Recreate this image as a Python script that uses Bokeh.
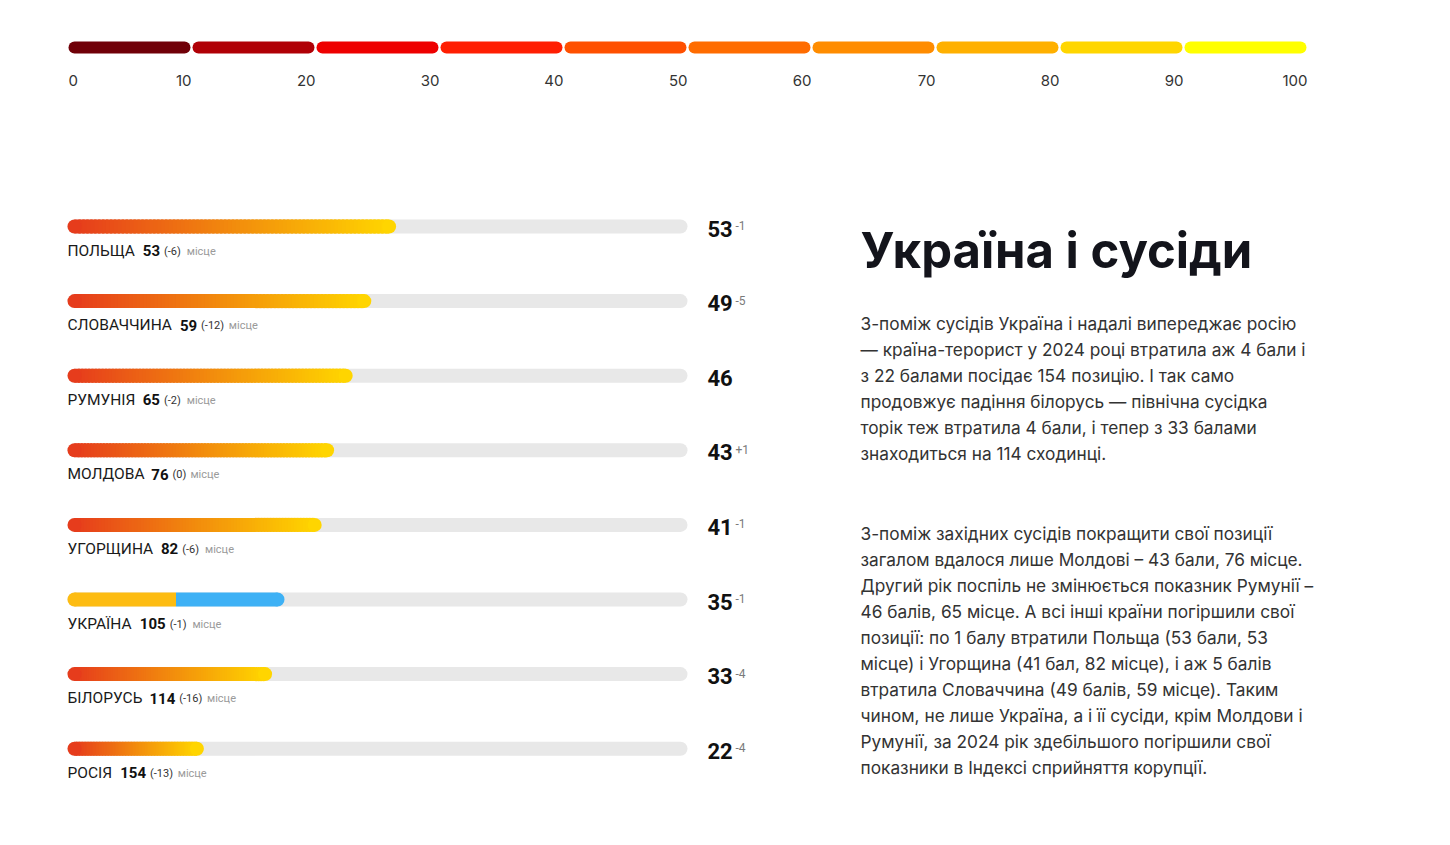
import numpy as np
from bokeh.plotting import figure
from bokeh.models import Range1d
from bokeh.core.properties import value
from bokeh.embed import file_html
from bokeh.resources import INLINE

# ---------------- data ----------------
countries = ["ПОЛЬЩА", "СЛОВАЧЧИНА", "РУМУНІЯ", "МОЛДОВА", "УГОРЩИНА", "УКРАЇНА", "БІЛОРУСЬ", "РОСІЯ"]
scores = [53, 49, 46, 43, 41, 35, 33, 22]
score_change = ["-1", "-5", "", "+1", "-1", "-1", "-4", "-4"]
ranks = [53, 59, 65, 76, 82, 105, 114, 154]
rank_change = ["(-6)", "(-12)", "(-2)", "(0)", "(-6)", "(-1)", "(-16)", "(-13)"]
rank_word = "місце"

scale_ticks = [0, 10, 20, 30, 40, 50, 60, 70, 80, 90, 100]
scale_colors = ["#700008", "#b00006", "#ee0000", "#ff1e02", "#ff5000", "#ff6c00",
                "#ff8c00", "#ffb000", "#ffd600", "#ffff00"]

title = "Україна і сусіди"
para1 = [
    "З-поміж сусідів Україна і надалі випереджає росію",
    "— країна-терорист у 2024 році втратила аж 4 бали і",
    "з 22 балами посідає 154 позицію. І так само",
    "продовжує падіння  білорусь — північна сусідка",
    "торік теж втратила 4 бали, і тепер з 33 балами",
    "знаходиться на 114 сходинці.",
]
para2 = [
    "З-поміж західних сусідів покращити свої позиції",
    "загалом вдалося лише Молдові – 43 бали, 76 місце.",
    "Другий рік поспіль не змінюється показник Румунії –",
    "46 балів, 65 місце. А всі інші країни погіршили свої",
    "позиції: по 1 балу втратили Польща (53 бали, 53",
    "місце) і Угорщина (41 бал, 82 місце), і аж 5 балів",
    "втратила Словаччина (49 балів, 59 місце). Таким",
    "чином, не лише Україна, а і її сусіди, крім Молдови і",
    "Румунії, за 2024 рік здебільшого погіршили свої",
    "показники в Індексі сприйняття корупції.",
]
flag_country = "УКРАЇНА"

# ---------------- layout / style ----------------
W, H = 1434, 829
PAGE = 0
TRACK_L, TRACK_R = 67, 687
PX = (TRACK_R - TRACK_L) / 100.0
SC_L, SC_R = 67, 1307
SPX = (SC_R - SC_L) / 100.0
ROW_Y0, ROW_STEP = 226, 74.6
BAR_H = 14
TRACK_COLOR = "#e8e8e8"
GRAD = ["#e63c1c", "#f28b0d", "#ffd500"]
FLAG = ["#fdbc12", "#3eb1f5"]
FONT_LBL = "Roboto"
FONT_BODY = "Inter"

x0 = -(TRACK_L - PAGE) / PX
sx0 = -(SC_L - PAGE) / SPX

p = figure(width=W, height=H, x_range=Range1d(x0, x0 + W / PX),
           y_range=Range1d(PAGE + H, PAGE), x_axis_type=None, y_axis_type=None,
           output_backend="svg", toolbar_location=None, min_border=0)
p.extra_x_ranges = {"scale": Range1d(sx0, sx0 + W / SPX)}
p.grid.visible = False
p.outline_line_color = None
p.background_fill_color = "white"
p.border_fill_color = "white"


def hex2rgb(h):
    h = h.lstrip("#")
    return np.array([int(h[i:i + 2], 16) for i in (0, 2, 4)], float)


def grad_color(t):
    stops = [hex2rgb(c) for c in GRAD]
    seg = min(int(t * 2), 1)
    tt = t * 2 - seg
    c = stops[seg] * (1 - tt) + stops[seg + 1] * tt
    return "#%02x%02x%02x" % tuple(int(round(v)) for v in c)


# ---------------- colour scale ----------------
sc_y = 47
gap = 1.0 / SPX
cap = 6.0 / SPX
lefts = scale_ticks[:-1]
rights = scale_ticks[1:]
p.segment(x0=[l + cap + gap for l in lefts], x1=[r - cap - gap for r in rights],
          y0=[sc_y] * 10, y1=[sc_y] * 10, line_width=12, line_cap="round",
          line_color=scale_colors, x_range_name="scale")

tick_align = ["left"] + ["right"] * (len(scale_ticks) - 1)
p.text(x=scale_ticks, y=[80] * len(scale_ticks), text=[str(t) for t in scale_ticks],
       text_align=tick_align, text_baseline="middle", text_font=value(FONT_BODY),
       text_font_size="15px", text_color="#333333", x_range_name="scale",
       x_offset=[1] + [0] * 10)

# ---------------- bars ----------------
r = (BAR_H / 2) / PX
ys = [ROW_Y0 + i * ROW_STEP for i in range(len(countries))]

p.segment(x0=[r] * len(ys), x1=[100 - r] * len(ys), y0=ys, y1=ys,
          line_width=BAR_H, line_cap="round", line_color=TRACK_COLOR)

N = 80
ql, qr, qb, qt, qc = [], [], [], [], []
cx, cy, cc = [], [], []
for name, s, y in zip(countries, scores, ys):
    if name == flag_country:
        half = s / 2.0
        ql += [r, half]
        qr += [half, s - r]
        qb += [y + BAR_H / 2] * 2
        qt += [y - BAR_H / 2] * 2
        qc += FLAG
        cx += [r, s - r]
        cy += [y, y]
        cc += FLAG
        continue
    edges = np.linspace(r, s - r, N + 1)
    step = edges[1] - edges[0]
    for k in range(N):
        ql.append(edges[k])
        qr.append(min(edges[k + 1] + step * 0.6, s - r))
        qb.append(y + BAR_H / 2)
        qt.append(y - BAR_H / 2)
        qc.append(grad_color((k + 0.5) / N))
    cx += [r, s - r]
    cy += [y, y]
    cc += [GRAD[0], GRAD[-1]]

p.quad(left=ql, right=qr, bottom=qb, top=qt, fill_color=qc, line_color=None)
p.scatter(x=cx, y=cy, size=BAR_H, marker="circle", fill_color=cc, line_color=None)

# score labels
SCORE_X = (707 - TRACK_L) / PX
p.text(x=[SCORE_X] * len(ys), y=[y + 2 for y in ys], text=[str(s) for s in scores],
       text_font=value(FONT_LBL), text_font_style="bold", text_font_size="22px",
       text_color="#111111", text_baseline="middle", text_align="left")
p.text(x=[SCORE_X] * len(ys), y=[y - 1 for y in ys], text=score_change,
       x_offset=[28] * len(ys),
       text_font=value(FONT_LBL), text_font_size="12px",
       text_color="#7a7a7a", text_baseline="middle", text_align="left")

# width estimates (em) for label composition
EM = {"А": .652, "Б": .617, "В": .621, "Г": .535, "Д": .681, "Е": .567, "И": .713,
      "К": .627, "Л": .690, "М": .873, "Н": .713, "О": .688, "П": .713, "Р": .631,
      "С": .652, "У": .605, "Ч": .677, "Щ": .98, "Ь": .617, "Я": .64, "І": .272,
      "Ї": .272, " ": .248}


def width(s, size, default=.56):
    return sum(EM.get(ch, default) for ch in s) * size


NAME_SIZE, RANK_SIZE, SMALL = 15.5, 15, 11
name_x, rank_x, chg_x, word_x = [], [], [], []
for name, rk, rc in zip(countries, ranks, rank_change):
    nx = 0
    rx = nx + width(name, NAME_SIZE) + 8
    cxx = rx + len(str(rk)) * 8.6 + 4
    wx = cxx + width(rc, SMALL, .45) + 3
    name_x.append(nx)
    rank_x.append(rx)
    chg_x.append(cxx)
    word_x.append(wx)

ly = [y + 24 for y in ys]
zeros = [0] * len(ys)
p.text(x=zeros, y=ly, text=countries, x_offset=name_x, text_font=value(FONT_LBL),
       text_font_size="%spx" % NAME_SIZE, text_color="#1a1a1a",
       text_baseline="middle", text_align="left")
p.text(x=zeros, y=ly, text=[str(v) for v in ranks], x_offset=rank_x,
       text_font=value(FONT_LBL), text_font_style="bold",
       text_font_size="%spx" % RANK_SIZE, text_color="#111111",
       text_baseline="middle", text_align="left")
p.text(x=zeros, y=[v + 0.5 for v in ly], text=rank_change, x_offset=chg_x,
       text_font=value(FONT_LBL), text_font_size="%spx" % SMALL, text_color="#333333",
       text_baseline="middle", text_align="left")
p.text(x=zeros, y=[v + 0.5 for v in ly], text=[rank_word] * len(ys), x_offset=word_x,
       text_font=value(FONT_LBL), text_font_size="%spx" % SMALL, text_color="#9a9a9a",
       text_baseline="middle", text_align="left")

# ---------------- right text ----------------
RX = (860 - TRACK_L) / PX
p.text(x=[RX], y=[250], text=[title], text_font=value(FONT_BODY), text_font_style="bold",
       text_font_size="49px", text_color="#13141b", text_baseline="middle",
       text_align="left")
p.text(x=[RX] * len(para1), y=[323 + 26 * i for i in range(len(para1))], text=para1,
       text_font=value(FONT_BODY), text_font_size="17.3px", text_color="#333333",
       text_baseline="middle", text_align="left")
p.text(x=[RX] * len(para2), y=[533 + 26 * i for i in range(len(para2))], text=para2,
       text_font=value(FONT_BODY), text_font_size="17.3px", text_color="#333333",
       text_baseline="middle", text_align="left")

open("out.html", "w").write(file_html(p, INLINE))
